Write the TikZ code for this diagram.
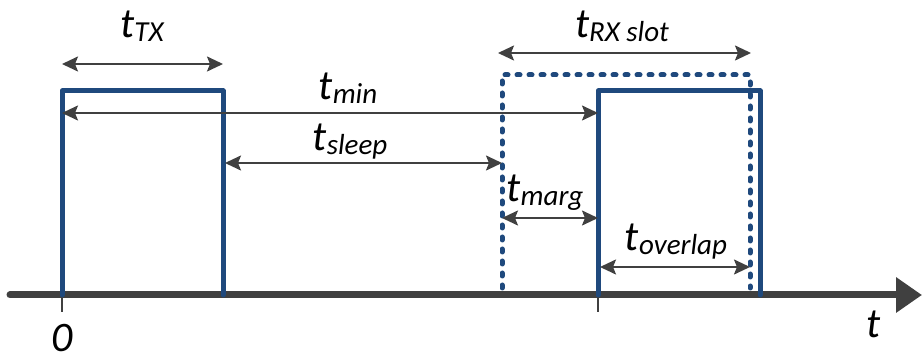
\documentclass[tikz,border=0pt]{standalone}
\usepackage{fontspec}
\setmainfont{Carlito}
\usetikzlibrary{arrows.meta}
\definecolor{pulse}{RGB}{31,73,125}
\definecolor{dgray}{RGB}{64,64,64}
\tikzset{
  pulseline/.style={draw=pulse,line width=5pt,line join=round,line cap=round},
  slotline/.style={draw=pulse,line width=5pt,line cap=round,line join=round,dash pattern=on 3pt off 9pt},
  dim/.style={draw=dgray,line width=2pt,{Stealth[length=16pt,width=15pt,inset=3pt]}-{Stealth[length=16pt,width=15pt,inset=3pt]}},
  axisline/.style={draw=dgray,line width=7pt,line cap=round,-{Triangle[length=26pt,width=34pt]}},
  tickline/.style={draw=dgray,line width=2.5pt},
  lbl/.style={anchor=base,inner sep=0pt,font=\fontsize{42}{44}\selectfont\itshape},
}
\newcommand{\sbs}[1]{\raisebox{-4pt}{\fontsize{29}{30}\selectfont\itshape #1}}
\begin{document}
\begin{tikzpicture}[x=1pt,y=-1pt]
\useasboundingbox (0,0) rectangle (922,363);
% axis
\coordinate (ax0) at (10,295);
\coordinate (ax1) at (922,295);
\draw[axisline] (ax0) -- (ax1);
% ticks
\coordinate (tk0a) at (62,295); \coordinate (tk0b) at (62,312);
\coordinate (tk1a) at (598,295); \coordinate (tk1b) at (598,312);
\draw[tickline] (tk0a) -- (tk0b);
\draw[tickline] (tk1a) -- (tk1b);
% TX pulse
\coordinate (tx0) at (62,295); \coordinate (tx1) at (62,91);
\coordinate (tx2) at (223,91); \coordinate (tx3) at (223,295);
\draw[pulseline] (tx0) -- (tx1) -- (tx2) -- (tx3);
% RX pulse
\coordinate (rx0) at (598,295); \coordinate (rx1) at (598,91);
\coordinate (rx2) at (760,91); \coordinate (rx3) at (760,295);
\draw[pulseline] (rx0) -- (rx1) -- (rx2) -- (rx3);
% RX slot
\coordinate (sl0) at (502,288); \coordinate (sl1) at (502,75);
\coordinate (sl2) at (750,75); \coordinate (sl3) at (750,288);
\draw[slotline] (sl0) -- (sl1) -- (sl2) -- (sl3);
% dimension arrows
\coordinate (dtxa) at (62,64); \coordinate (dtxb) at (223,64);
\draw[dim] (dtxa) -- (dtxb);
\coordinate (drxa) at (498,53); \coordinate (drxb) at (751,53);
\draw[dim] (drxa) -- (drxb);
\coordinate (dmina) at (62,113); \coordinate (dminb) at (598,113);
\draw[dim] (dmina) -- (dminb);
\coordinate (dsla) at (225,163); \coordinate (dslb) at (502,163);
\draw[dim] (dsla) -- (dslb);
\coordinate (dmga) at (502,218); \coordinate (dmgb) at (598,218);
\draw[dim] (dmga) -- (dmgb);
\coordinate (dova) at (600,267); \coordinate (dovb) at (750,267);
\draw[dim] (dova) -- (dovb);
% labels
\node[lbl] (ltx) at (142,38) {t\sbs{TX}};
\node[lbl] (lrx) at (622,38) {t\sbs{RX slot}};
\node[lbl] (lmin) at (348,100) {t\sbs{min}};
\node[lbl] (lsleep) at (350,151) {t\sbs{sleep}};
\node[lbl] (lmarg) at (545,202) {t\sbs{marg}};
\node[lbl] (lover) at (676,251) {t\sbs{overlap}};
\node[lbl] (lt) at (874,338) {t};
\node[lbl] (l0) at (62,352) {0};
\end{tikzpicture}
\end{document}
